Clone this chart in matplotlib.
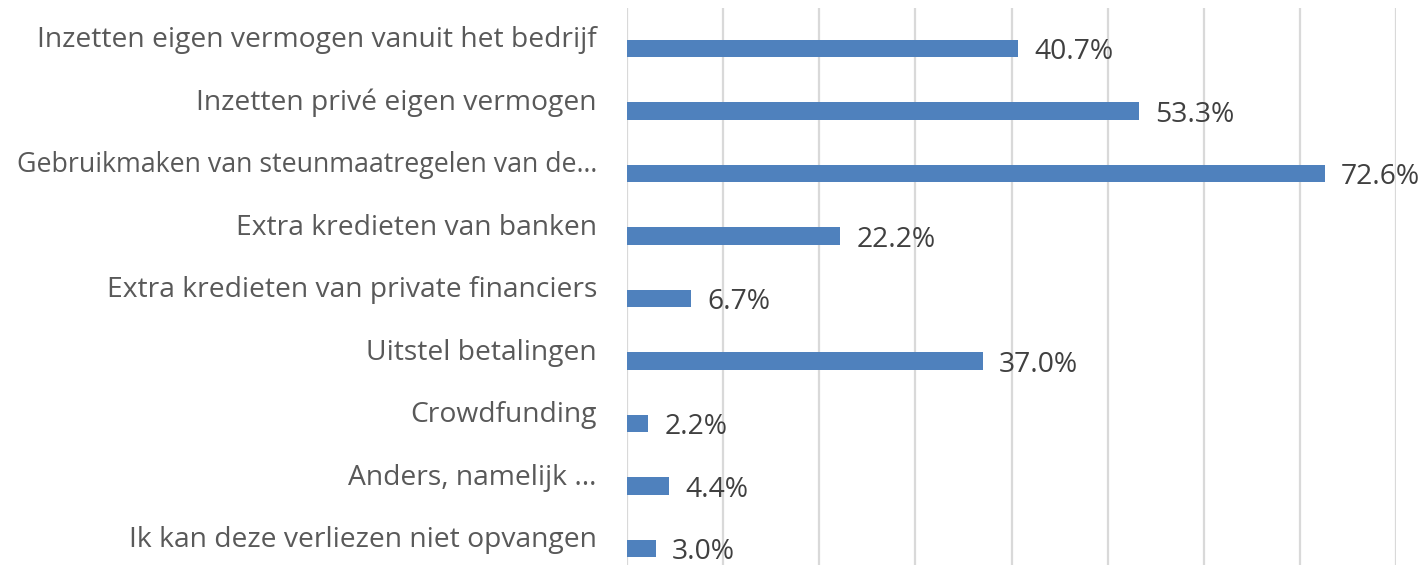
import matplotlib.pyplot as plt

categories = [
    'Inzetten eigen vermogen vanuit het bedrijf',
    'Inzetten privé eigen vermogen',
    'Gebruikmaken van steunmaatregelen van de…',
    'Extra kredieten van banken',
    'Extra kredieten van private financiers',
    'Uitstel betalingen',
    'Crowdfunding',
    'Anders, namelijk …',
    'Ik kan deze verliezen niet opvangen',
]
values = [40.7, 53.3, 72.6, 22.2, 6.7, 37.0, 2.2, 4.4, 3.0]
value_labels = ['40.7%', '53.3%', '72.6%', '22.2%', '6.7%', '37.0%', '2.2%', '4.4%', '3.0%']

plt.rcParams['font.family'] = ['Open Sans', 'DejaVu Sans']

fig = plt.figure(figsize=(14.23, 5.65), dpi=100)
ax = fig.add_axes([627 / 1423, 0, (1396 - 627) / 1423, (565 - 8) / 565])

pos = list(range(len(categories)))
ax.barh(pos, values, height=0.28, color='#4f81bd', zorder=3)

ax.set_xlim(0, 80)
ax.set_ylim(8.264, -0.644)
ax.set_xticks(range(0, 81, 10))
ax.set_yticks([])
ax.tick_params(axis='x', length=0, labelbottom=False)
ax.grid(axis='x', color='#d9d9d9', linewidth=1.6, zorder=0)
for s in ax.spines.values():
    s.set_visible(False)

cat_texts = []
for i, (cat, v, lab) in enumerate(zip(categories, values, value_labels)):
    t = ax.annotate(cat, xy=(0, i), xytext=(-30, 8), textcoords='offset pixels',
                    ha='right', va='center', fontsize=20.3, color='#595959')
    cat_texts.append(t)
    ax.annotate(lab, xy=(v, i), xytext=(16, -4), textcoords='offset pixels',
                ha='left', va='center', fontsize=20.3, color='#404040')

# shrink any label that would run past the left edge (Calibri is narrower than Open Sans)
fig.canvas.draw()
r = fig.canvas.get_renderer()
for t in cat_texts:
    bb = t.get_window_extent(r)
    if bb.x0 < 14:
        avail = bb.x1 - 14
        t.set_fontsize(20.3 * avail / bb.width)

fig.savefig('out.png', dpi=100)
